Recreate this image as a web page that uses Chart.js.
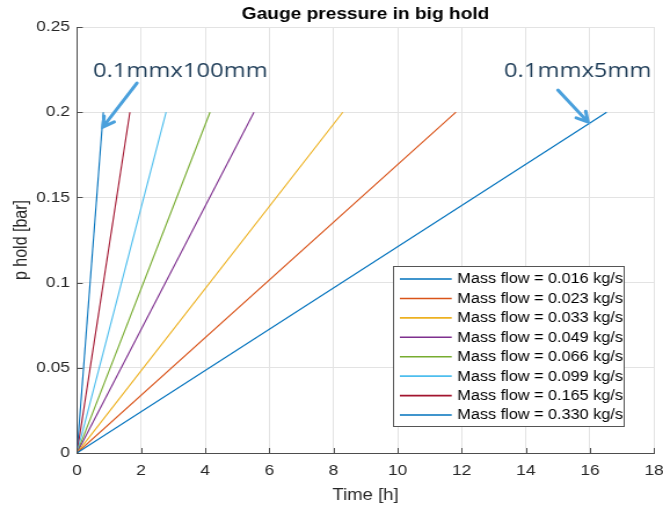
<!DOCTYPE html>
<html>
<head>
<meta charset="utf-8">
<script src="https://cdn.jsdelivr.net/npm/chart.js@4.4.1/dist/chart.umd.min.js"></script>
<style>
  html, body { margin: 0; padding: 0; background: #fff; overflow: hidden; }
  /* the figure is stretched sideways, so the canvas is drawn narrow and stretched */
  #wrap { width: 572px; height: 505px; transform: scaleX(1.1591); transform-origin: 0 0; }
</style>
</head>
<body>
<div id="wrap"><canvas id="pressureChart"></canvas></div>
<script>
// values
const massFlows = ['0.016', '0.023', '0.033', '0.049', '0.066', '0.099', '0.165', '0.330'];
const fillTimes = [16.52, 11.82, 8.29, 5.52, 4.15, 2.78, 1.65, 0.82]; // h until 0.2 bar
const startPressure = 0;
const endPressure = 0.2;
const xTicks = [0, 2, 4, 6, 8, 10, 12, 14, 16, 18];
const yTicks = [0, 0.05, 0.1, 0.15, 0.2, 0.25];
const yTickLabels = ['0', '0.05', '0.1', '0.15', '0.2', '0.25'];
const lineColors = ['#0072BD', '#D95319', '#EDB120', '#7E2F8E', '#77AC30', '#4DBEEE', '#A2142F', '#0072BD'];
const chartTitle = 'Gauge pressure in big hold';

// the two text arrows (data coordinates)
const notes = [
    { text: '0.1mmx100mm', x: 0.5, y: 0.2208, tail: [1.87, 0.2171], tip: [0.81, 0.1913] },
    { text: '0.1mmx5mm', x: 13.32, y: 0.2208, tail: [15.0, 0.2130], tip: [15.94, 0.1942] }
];

const axisColor = '#4d4d4d';
const textColor = '#262626';

const datasets = massFlows.map((m, i) => ({
    label: `Mass flow = ${m} kg/s`,
    data: [{ x: 0, y: startPressure }, { x: fillTimes[i], y: endPressure }],
    borderColor: lineColors[i],
    backgroundColor: lineColors[i],
    borderWidth: 1.1,
    showLine: true,
    pointRadius: 0,
    tension: 0
}));

// title centred over the axes, not the whole canvas
const axesTitle = {
    id: 'axesTitle',
    afterDraw(chart) {
        const ctx = chart.ctx;
        const a = chart.chartArea;
        ctx.save();
        ctx.font = 'bold 16.5px "Liberation Sans", Arial, sans-serif';
        ctx.fillStyle = '#000';
        ctx.textAlign = 'center';
        ctx.textBaseline = 'middle';
        ctx.fillText(chartTitle, (a.left + a.right) / 2, 14.5);
        ctx.restore();
    }
};

// small inward ticks like matlab
const innerTicks = {
    id: 'innerTicks',
    afterDraw(chart) {
        const ctx = chart.ctx;
        const xs = chart.scales.x, ys = chart.scales.y;
        const a = chart.chartArea;
        ctx.save();
        ctx.strokeStyle = axisColor;
        ctx.lineWidth = 1;
        ctx.beginPath();
        xTicks.forEach(v => {
            const px = Math.round(xs.getPixelForValue(v)) + 0.5;
            ctx.moveTo(px, a.bottom);
            ctx.lineTo(px, a.bottom - 5);
        });
        yTicks.forEach(v => {
            const py = Math.round(ys.getPixelForValue(v)) + 0.5;
            ctx.moveTo(a.left, py);
            ctx.lineTo(a.left + 5, py);
        });
        ctx.stroke();
        ctx.restore();
    }
};

// legend box inside the axes, lower right
const boxLegend = {
    id: 'boxLegend',
    afterDraw(chart) {
        const ctx = chart.ctx;
        const a = chart.chartArea;
        const w = 199.4, h = 160;
        const x0 = a.right - 25.9 - w;
        const y0 = a.bottom - 27 - h;
        ctx.save();
        ctx.fillStyle = '#fff';
        ctx.fillRect(x0, y0, w, h);
        ctx.strokeStyle = '#555';
        ctx.lineWidth = 1;
        ctx.strokeRect(Math.round(x0) + 0.5, Math.round(y0) + 0.5, Math.round(w), Math.round(h));
        ctx.font = '14px "Liberation Sans", Arial, sans-serif';
        ctx.textBaseline = 'middle';
        ctx.textAlign = 'left';
        chart.data.datasets.forEach((ds, i) => {
            const yy = y0 + 13 + i * 19.43;
            ctx.strokeStyle = ds.borderColor;
            ctx.lineWidth = 1.6;
            ctx.beginPath();
            ctx.moveTo(x0 + 6, yy);
            ctx.lineTo(x0 + 50.7, yy);
            ctx.stroke();
            ctx.fillStyle = '#000';
            ctx.fillText(ds.label, x0 + 55.6, yy + 0.5);
        });
        ctx.restore();
    }
};

// arrows with text
const arrowNotes = {
    id: 'arrowNotes',
    afterDraw(chart) {
        const ctx = chart.ctx;
        const xs = chart.scales.x, ys = chart.scales.y;
        ctx.save();
        notes.forEach(n => {
            ctx.font = '20.5px "Open Sans", sans-serif';
            ctx.fillStyle = '#1f3d58';
            ctx.textBaseline = 'alphabetic';
            ctx.fillText(n.text, xs.getPixelForValue(n.x), ys.getPixelForValue(n.y));

            const tx = xs.getPixelForValue(n.tail[0]), ty = ys.getPixelForValue(n.tail[1]);
            const hx = xs.getPixelForValue(n.tip[0]), hy = ys.getPixelForValue(n.tip[1]);
            const ang = Math.atan2(hy - ty, hx - tx);
            ctx.strokeStyle = '#4aa0dc';
            ctx.lineWidth = 3;
            ctx.lineCap = 'round';
            ctx.beginPath();
            ctx.moveTo(tx, ty);
            ctx.lineTo(hx, hy);
            const len = 11, spread = 0.5;
            ctx.moveTo(hx - len * Math.cos(ang - spread), hy - len * Math.sin(ang - spread));
            ctx.lineTo(hx, hy);
            ctx.lineTo(hx - len * Math.cos(ang + spread), hy - len * Math.sin(ang + spread));
            ctx.stroke();
        });
        ctx.restore();
    }
};

const ctx = document.getElementById('pressureChart').getContext('2d');
new Chart(ctx, {
    type: 'scatter',
    data: { datasets: datasets },
    plugins: [axesTitle, innerTicks, boxLegend, arrowNotes],
    options: {
        responsive: true,
        maintainAspectRatio: false,
        animation: false,
        layout: { padding: { top: 27, right: 7.7, bottom: 0, left: 0 } },
        scales: {
            x: {
                type: 'linear',
                min: 0,
                max: 18,
                afterBuildTicks: s => { s.ticks = xTicks.map(v => ({ value: v })); },
                afterFit: s => { s.height = 52; s.paddingLeft = 0; s.paddingRight = 0; },
                ticks: {
                    color: textColor,
                    font: { family: '"Liberation Sans", Arial, sans-serif', size: 15 },
                    padding: 9,
                    maxRotation: 0
                },
                grid: { color: '#e3e3e3', drawTicks: false },
                border: { display: true, color: axisColor },
                title: {
                    display: true,
                    text: 'Time [h]',
                    color: textColor,
                    font: { family: '"Liberation Sans", Arial, sans-serif', size: 16 },
                    padding: { top: 6, bottom: 0 }
                }
            },
            y: {
                type: 'linear',
                min: 0,
                max: 0.25,
                afterBuildTicks: s => { s.ticks = yTicks.map(v => ({ value: v })); },
                afterFit: s => { s.width = 66.4; s.paddingTop = 0; s.paddingBottom = 0; },
                ticks: {
                    color: textColor,
                    font: { family: '"Liberation Sans", Arial, sans-serif', size: 15 },
                    padding: 6,
                    callback: (v) => yTickLabels[yTicks.indexOf(v)] ?? ''
                },
                grid: { color: '#e3e3e3', drawTicks: false },
                border: { display: true, color: axisColor },
                title: {
                    display: true,
                    text: 'p hold [bar]',
                    color: textColor,
                    font: { family: '"Liberation Sans", Arial, sans-serif', size: 16 },
                    padding: { top: 9.4, bottom: 0 }
                }
            }
        },
        plugins: {
            legend: { display: false },
            tooltip: { enabled: false },
            title: { display: false }
        }
    }
});
</script>
</body>
</html>
